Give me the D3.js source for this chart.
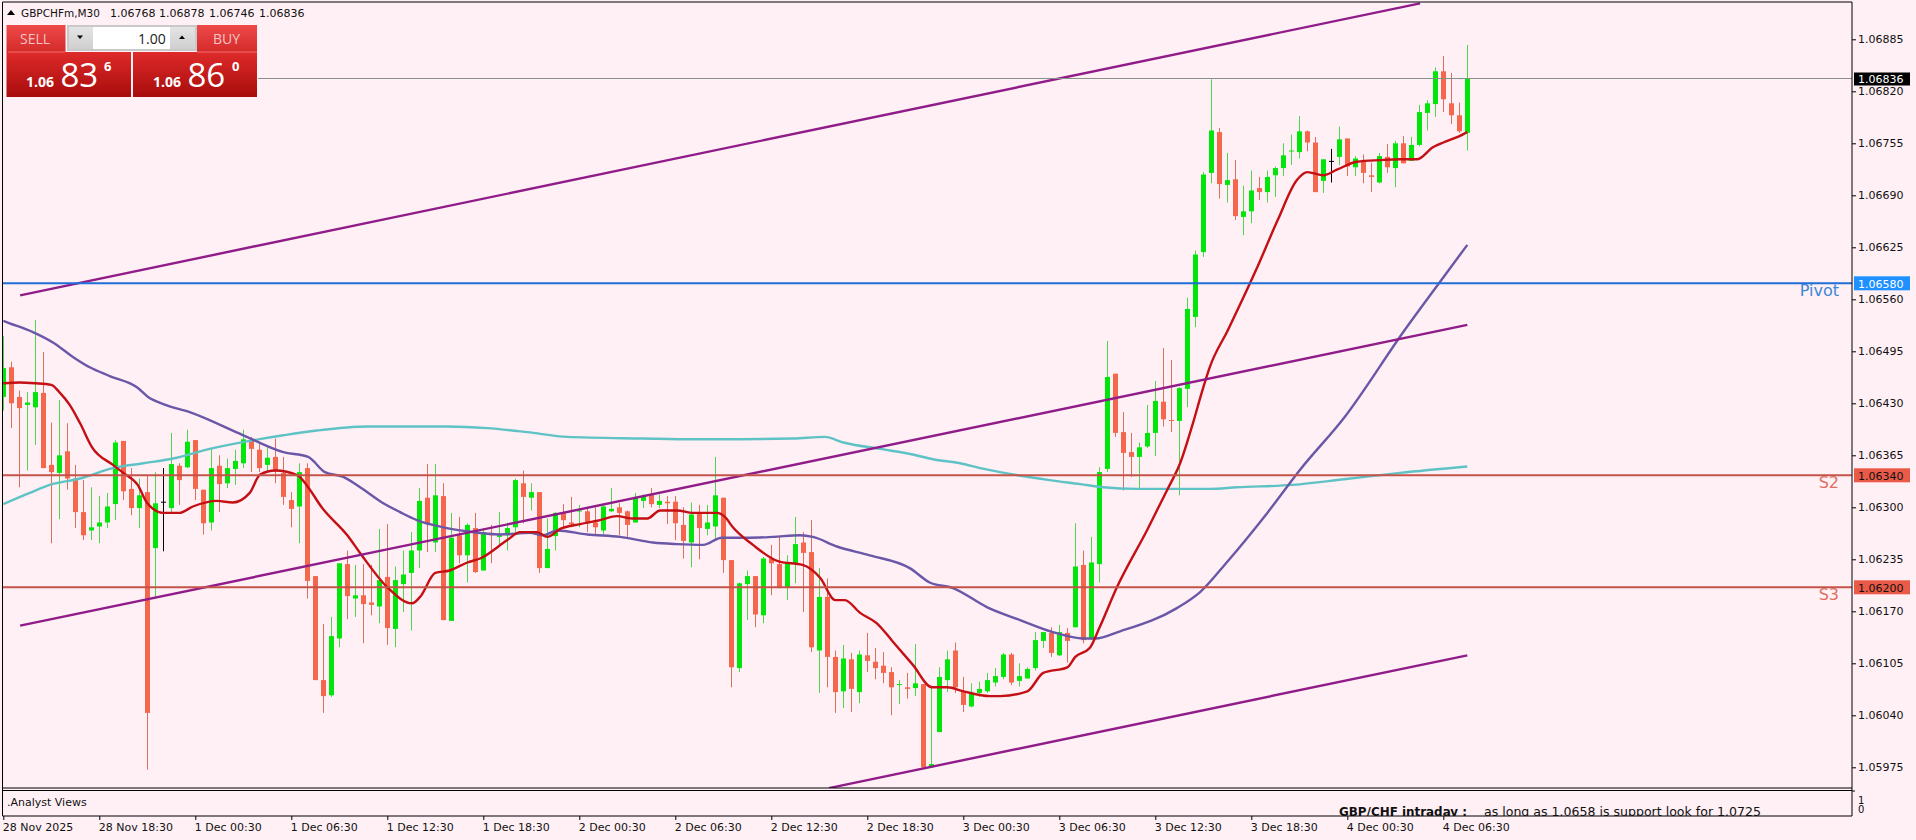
<!DOCTYPE html>
<html><head><meta charset="utf-8"><title>GBPCHFm M30</title>
<script src="https://cdn.jsdelivr.net/npm/d3@7/dist/d3.min.js"></script>
<style>
html,body{margin:0;padding:0;background:#fff0f5;overflow:hidden}
svg{display:block}
text{font-family:"DejaVu Sans",sans-serif;fill:#111}
.axis path{display:none}
.axis line{stroke:#000}
.axis text{font-family:"DejaVu Sans",sans-serif;font-size:11px;fill:#111}
</style></head><body>
<svg id="c" width="1916" height="840"></svg>
<script>
const opens=[1.06438,1.06475,1.06438,1.06428,1.06425,1.06443,1.06353,1.06343,1.06370,1.06336,
1.06294,1.06271,1.06276,1.06281,1.06304,1.06383,1.06323,1.06299,1.06319,1.06249,
1.06307,1.06299,1.06352,1.06350,1.06384,1.06322,1.06281,1.06352,1.06330,1.06348,
1.06355,1.06384,1.06372,1.06353,1.06363,1.06343,1.06309,1.06301,1.06349,1.06214,
1.06084,1.06065,1.06136,1.06229,1.06186,1.06190,1.06181,1.06176,1.06213,1.06148,
1.06204,1.06218,1.06246,1.06312,1.06256,1.06314,1.06158,1.06265,1.06240,1.06274,
1.06221,1.06268,1.06263,1.06265,1.06275,1.06330,1.06312,1.06319,1.06224,1.06264,
1.06293,1.06281,1.06295,1.06295,1.06281,1.06271,1.06295,1.06300,1.06295,1.06281,
1.06308,1.06316,1.06303,1.06307,1.06307,1.06278,1.06256,1.06293,1.06273,1.06276,
1.06312,1.06234,1.06099,1.06204,1.06214,1.06165,1.06236,1.06229,1.06200,1.06230,
1.06256,1.06244,1.06121,1.06188,1.06113,1.06070,1.06110,1.06069,1.06115,1.06107,
1.06102,1.06094,1.06078,1.06075,1.06074,1.06079,1.05975,1.06019,1.06084,1.06121,
1.06069,1.06051,1.06068,1.06070,1.06081,1.06088,1.06116,1.06083,1.06086,1.06099,
1.06133,1.06143,1.06115,1.06143,1.06150,1.06228,1.06136,1.06229,1.06348,1.06467,
1.06394,1.06369,1.06363,1.06376,1.06393,1.06432,1.06409,1.06408,1.06448,1.06538,
1.06619,1.06718,1.06769,1.06703,1.06710,1.06663,1.06670,1.06699,1.06694,1.06715,
1.06724,1.06745,1.06744,1.06770,1.06756,1.06708,1.06733,1.06738,1.06761,1.06725,
1.06733,1.06715,1.06706,1.06738,1.06724,1.06755,1.06733,1.06753,1.06793,1.06804,
1.06845,1.06805,1.06790,1.06768];
const highs=[1.06514,1.06482,1.06446,1.06444,1.06534,1.06494,1.06406,1.06434,1.06405,1.06353,
1.06334,1.06325,1.06314,1.06318,1.06384,1.06383,1.06349,1.06336,1.06340,1.06344,
1.06349,1.06393,1.06355,1.06397,1.06384,1.06322,1.06374,1.06365,1.06361,1.06372,
1.06397,1.06388,1.06381,1.06375,1.06386,1.06363,1.06319,1.06355,1.06355,1.06214,
1.06154,1.06163,1.06230,1.06246,1.06228,1.06229,1.06228,1.06273,1.06279,1.06226,
1.06246,1.06269,1.06324,1.06354,1.06354,1.06330,1.06293,1.06288,1.06280,1.06293,
1.06274,1.06278,1.06294,1.06281,1.06336,1.06346,1.06330,1.06319,1.06286,1.06294,
1.06304,1.06313,1.06303,1.06300,1.06300,1.06303,1.06324,1.06305,1.06296,1.06318,
1.06316,1.06324,1.06316,1.06314,1.06314,1.06300,1.06306,1.06303,1.06303,1.06363,
1.06312,1.06234,1.06206,1.06221,1.06214,1.06238,1.06253,1.06263,1.06240,1.06288,
1.06269,1.06284,1.06224,1.06211,1.06121,1.06128,1.06118,1.06121,1.06143,1.06124,
1.06119,1.06100,1.06084,1.06093,1.06129,1.06079,1.06075,1.06100,1.06121,1.06131,
1.06088,1.06080,1.06082,1.06093,1.06099,1.06118,1.06118,1.06105,1.06100,1.06144,
1.06144,1.06150,1.06153,1.06149,1.06280,1.06246,1.06263,1.06350,1.06508,1.06467,
1.06419,1.06393,1.06381,1.06428,1.06458,1.06499,1.06484,1.06450,1.06562,1.06621,
1.06719,1.06835,1.06774,1.06743,1.06734,1.06702,1.06721,1.06713,1.06721,1.06726,
1.06755,1.06766,1.06789,1.06771,1.06763,1.06735,1.06748,1.06776,1.06761,1.06739,
1.06741,1.06731,1.06743,1.06754,1.06758,1.06764,1.06763,1.06803,1.06809,1.06850,
1.06864,1.06843,1.06806,1.06878];
const lows=[1.06421,1.06399,1.06325,1.06346,1.06378,1.06349,1.06255,1.06285,1.06322,1.06274,
1.06259,1.06259,1.06255,1.06274,1.06284,1.06309,1.06290,1.06274,1.05972,1.06188,
1.06245,1.06294,1.06303,1.06349,1.06309,1.06266,1.06271,1.06294,1.06324,1.06328,
1.06349,1.06344,1.06344,1.06344,1.06330,1.06303,1.06275,1.06255,1.06186,1.06084,
1.06043,1.06063,1.06125,1.06160,1.06163,1.06130,1.06165,1.06155,1.06128,1.06125,
1.06169,1.06146,1.06224,1.06244,1.06244,1.06159,1.06158,1.06230,1.06206,1.06218,
1.06221,1.06230,1.06250,1.06246,1.06268,1.06280,1.06296,1.06218,1.06224,1.06246,
1.06274,1.06275,1.06275,1.06269,1.06265,1.06265,1.06294,1.06265,1.06263,1.06281,
1.06299,1.06300,1.06299,1.06279,1.06259,1.06236,1.06225,1.06235,1.06265,1.06261,
1.06218,1.06075,1.06094,1.06159,1.06150,1.06155,1.06190,1.06199,1.06184,1.06205,
1.06169,1.06119,1.06068,1.06075,1.06043,1.06049,1.06044,1.06055,1.06094,1.06085,
1.06080,1.06040,1.06054,1.06061,1.06064,1.05975,1.05975,1.06019,1.06069,1.06068,
1.06044,1.06050,1.06063,1.06068,1.06076,1.06085,1.06078,1.06076,1.06086,1.06096,
1.06124,1.06113,1.06114,1.06106,1.06150,1.06130,1.06134,1.06206,1.06344,1.06388,
1.06321,1.06338,1.06324,1.06374,1.06364,1.06401,1.06394,1.06315,1.06425,1.06525,
1.06613,1.06705,1.06686,1.06681,1.06659,1.06640,1.06655,1.06684,1.06681,1.06688,
1.06714,1.06728,1.06736,1.06745,1.06694,1.06693,1.06706,1.06728,1.06714,1.06714,
1.06705,1.06694,1.06705,1.06718,1.06700,1.06730,1.06733,1.06751,1.06771,1.06788,
1.06794,1.06779,1.06768,1.06746];
const closes=[1.06474,1.06430,1.06424,1.06431,1.06444,1.06349,1.06344,1.06365,1.06336,1.06294,
1.06265,1.06275,1.06281,1.06301,1.06381,1.06320,1.06299,1.06315,1.06043,1.06305,
1.06307,1.06354,1.06334,1.06382,1.06323,1.06280,1.06349,1.06329,1.06349,1.06358,
1.06385,1.06373,1.06349,1.06362,1.06346,1.06313,1.06298,1.06344,1.06208,1.06084,
1.06064,1.06139,1.06230,1.06189,1.06190,1.06179,1.06178,1.06209,1.06149,1.06209,
1.06216,1.06246,1.06308,1.06280,1.06315,1.06159,1.06262,1.06240,1.06278,1.06219,
1.06269,1.06265,1.06265,1.06274,1.06334,1.06313,1.06319,1.06224,1.06248,1.06293,
1.06284,1.06279,1.06296,1.06280,1.06275,1.06301,1.06298,1.06293,1.06278,1.06313,
1.06314,1.06304,1.06308,1.06305,1.06280,1.06258,1.06291,1.06274,1.06281,1.06315,
1.06234,1.06100,1.06205,1.06214,1.06166,1.06236,1.06230,1.06199,1.06230,1.06254,
1.06243,1.06125,1.06188,1.06113,1.06069,1.06111,1.06073,1.06116,1.06108,1.06099,
1.06093,1.06075,1.06079,1.06073,1.06080,1.05975,1.05979,1.06088,1.06110,1.06075,
1.06053,1.06068,1.06073,1.06084,1.06089,1.06116,1.06081,1.06089,1.06098,1.06134,
1.06144,1.06118,1.06144,1.06133,1.06226,1.06134,1.06231,1.06344,1.06463,1.06393,
1.06368,1.06363,1.06375,1.06393,1.06433,1.06410,1.06408,1.06449,1.06548,1.06616,
1.06716,1.06771,1.06704,1.06709,1.06664,1.06670,1.06696,1.06694,1.06713,1.06724,
1.06740,1.06746,1.06770,1.06756,1.06694,1.06735,1.06733,1.06760,1.06726,1.06736,
1.06718,1.06713,1.06739,1.06725,1.06755,1.06730,1.06753,1.06794,1.06805,1.06845,
1.06810,1.06790,1.06770,1.06836];

const fastBars=[0,2,4,6,7,8.3,9.6,11.1,13.7,15,16.8,18,20,22,23.7,26.7,28.7,30.8,32.1,34,36.8,38.1,39.8,43,44.8,48,51.1,52.1,54,55.8,58,59.6,63,64.6,66.7,68,69.6,72.1,74.6,76.7,78.7,80.5,82.1,84.2,86.2,89.2,90.2,91.2,93.7,97,99.9,102.1,104,105.2,107.1,109.2,111.2,113.7,116.1,118,120,123.3,124.6,128,130,133,134,135.8,137,139.2,143,145.5,147.1,148.7,150,150.8,153.1,156.7,159.3,161.7,163,165,166.7,169.2,172.1,174.6,176.7,178.7,180,181.8,183];
const fastMA=[1.06455,1.06456,1.06455,1.06453,1.06444,1.06428,1.06405,1.06375,1.06353,1.06343,1.06328,1.06305,1.06293,1.06293,1.06301,1.06308,1.06306,1.06318,1.06341,1.06346,1.06340,1.06325,1.06300,1.06265,1.06240,1.06200,1.06180,1.06188,1.06218,1.06221,1.06231,1.06236,1.06259,1.06269,1.06269,1.06263,1.06273,1.06279,1.06284,1.06289,1.06286,1.06286,1.06296,1.06296,1.06293,1.06293,1.06288,1.06275,1.06253,1.06232,1.06228,1.06212,1.06184,1.06184,1.06168,1.06155,1.06132,1.06103,1.06075,1.06075,1.06070,1.06064,1.06064,1.06070,1.06093,1.06100,1.06113,1.06124,1.06149,1.06200,1.06272,1.06322,1.06355,1.06405,1.06450,1.06475,1.06522,1.06599,1.06659,1.06709,1.06719,1.06715,1.06722,1.06732,1.06734,1.06735,1.06735,1.06750,1.06756,1.06763,1.06769];
const slowBars=[0,0.8,3.7,6.2,8.7,10.8,13.3,16.7,18.1,20,23.3,30,35,38.1,40.2,42.5,44.6,47.5,49.6,51.7,55,58,62.1,65.8,67.5,69.2,73,77.1,81.2,84.2,87.5,89.8,93.3,96.2,99.6,101.2,104.2,108.3,113.3,115.8,118.7,123,127.1,131.2,135,136.5,139.6,146.7,149.6,153,158,162.1,167.6,175.2,179.6,183];
const slowMA=[1.06533,1.06530,1.06519,1.06506,1.06488,1.06475,1.06464,1.06450,1.06438,1.06429,1.06419,1.06390,1.06369,1.06363,1.06344,1.06338,1.06325,1.06305,1.06294,1.06284,1.06275,1.06270,1.06266,1.06268,1.06265,1.06271,1.06266,1.06263,1.06256,1.06254,1.06253,1.06262,1.06262,1.06263,1.06265,1.06263,1.06251,1.06240,1.06224,1.06206,1.06199,1.06175,1.06159,1.06144,1.06136,1.06136,1.06145,1.06174,1.06194,1.06232,1.06293,1.06347,1.06412,1.06522,1.06582,1.06628];
const longBars=[0,3.3,5.8,9.6,13.7,17.5,21.2,25.8,30.8,35,39.2,45.5,55.5,60.5,65.5,70.5,80,86.2,88.7,98.7,102.7,105,109.6,113.7,116.2,119.6,122.1,124.6,130.8,134.6,137.5,141.7,150.8,154.2,161.2,167.6,174.6,183];
const longMA=[1.06304,1.06318,1.06328,1.06336,1.06349,1.06355,1.06361,1.06373,1.06383,1.06390,1.06396,1.06401,1.06401,1.06399,1.06394,1.06388,1.06386,1.06385,1.06385,1.06386,1.06388,1.06381,1.06373,1.06366,1.06360,1.06355,1.06349,1.06344,1.06334,1.06329,1.06325,1.06323,1.06323,1.06325,1.06328,1.06335,1.06343,1.06351];

const channelTopBars=[2.1,177.1],   channelTopPrices=[1.06565,1.06930];
const channelMidBars=[2.1,183],     channelMidPrices=[1.06152,1.06528];
const channelLowBars=[103.2,183],   channelLowPrices=[1.05949,1.06115];

const priceTicks=[1.06885,1.06820,1.06755,1.06690,1.06625,1.06560,1.06495,1.06430,1.06365,1.06300,1.06235,1.06170,1.06105,1.06040,1.05975];
const timeTickBars=[0,12,24,36,48,60,72,84,96,108,120,132,144,156,168,180];
const timeTickLabels=["28 Nov 2025","28 Nov 18:30","1 Dec 00:30","1 Dec 06:30","1 Dec 12:30","1 Dec 18:30","2 Dec 00:30","2 Dec 06:30","2 Dec 12:30","2 Dec 18:30","3 Dec 00:30","3 Dec 06:30","3 Dec 12:30","3 Dec 18:30","4 Dec 00:30","4 Dec 06:30"];
const levelNames=["Pivot","S2","S3"];
const levelPrices=[1.0658,1.0634,1.0620];
const currentPrice=1.06836;

const svg=d3.select("#c");
const x=d3.scaleLinear().domain([0,183]).range([3.3,1467.3]);
const y=d3.scaleLinear().domain([1.06885,1.05975]).range([39.3,767.3]);
const RIGHT=1852,TOP=2,MAINB=788,SUBT=790.5,BOT=816,LEFT=2.5;

const defs=svg.append("defs");
defs.append("clipPath").attr("id","main").append("rect").attr("x",LEFT+0.5).attr("y",TOP).attr("width",RIGHT-LEFT-0.5).attr("height",MAINB-TOP);
defs.append("clipPath").attr("id","sub").append("rect").attr("x",LEFT).attr("y",SUBT).attr("width",RIGHT-LEFT).attr("height",BOT-SUBT);
function grad(id,a,b){const g=defs.append("linearGradient").attr("id",id).attr("x1",0).attr("x2",0).attr("y1",0).attr("y2",1);
 g.append("stop").attr("offset",0).attr("stop-color",a);g.append("stop").attr("offset",1).attr("stop-color",b);}
grad("btn","#ee4a4a","#d42a2a");grad("px","#de2a2a","#a80c0c");grad("lot","#e4e4e4","#cfcfcf");

const chart=svg.append("g").attr("clip-path","url(#main)");
const bars=d3.range(opens.length);
const UP="#00e60a",DOWN="#f4674c",UPW="#4fd44f",DOWNW="#d9705c";
const dir=i=>closes[i]>opens[i]?1:closes[i]<opens[i]?-1:0;

chart.append("g").selectAll("line").data(bars).join("line")
 .attr("x1",i=>Math.round(x(i))+0.5).attr("x2",i=>Math.round(x(i))+0.5)
 .attr("y1",i=>y(highs[i])).attr("y2",i=>y(lows[i]))
 .attr("stroke",i=>dir(i)>0?UPW:dir(i)<0?DOWNW:"#000").attr("stroke-width",1);
chart.append("g").selectAll("rect").data(bars).join("rect")
 .attr("x",i=>Math.round(x(i))+0.5-2.5).attr("width",5)
 .attr("y",i=>y(Math.max(opens[i],closes[i])))
 .attr("height",i=>Math.max(1,Math.abs(y(opens[i])-y(closes[i]))))
 .attr("fill",i=>dir(i)>0?UP:dir(i)<0?DOWN:"#000");

const path=(b,v)=>d3.line().x((d,i)=>x(b[i])).y(d=>y(d)).curve(d3.curveMonotoneX)(v);
function ln(b,v,c,w){chart.append("path").attr("d",path(b,v)).attr("fill","none").attr("stroke",c).attr("stroke-width",w).attr("stroke-linejoin","round");}
ln(longBars,longMA,"#5fc3c6",2.4);
ln(slowBars,slowMA,"#6a57a8",2.4);
ln(fastBars,fastMA,"#c40f14",2.4);
ln(channelTopBars,channelTopPrices,"#8f1c88",2.4);
ln(channelMidBars,channelMidPrices,"#8f1c88",2.4);
ln(channelLowBars,channelLowPrices,"#8f1c88",2.4);

const levelColor=["#1f6fd6","#c4534a","#c4534a"];
const levelText=["#3b87d4","#de6f5e","#de6f5e"];
chart.append("g").selectAll("line").data(levelPrices).join("line")
 .attr("x1",LEFT).attr("x2",RIGHT).attr("y1",d=>y(d)).attr("y2",d=>y(d))
 .attr("stroke",(d,i)=>levelColor[i]).attr("stroke-width",2);
chart.append("line").attr("x1",258).attr("x2",RIGHT).attr("y1",y(currentPrice)).attr("y2",y(currentPrice)).attr("stroke","#87908a").attr("stroke-width",1);
chart.append("g").selectAll("text").data(levelNames).join("text")
 .attr("x",1839).attr("y",(d,i)=>y(levelPrices[i])+13).attr("text-anchor","end")
 .style("font-size","16px").style("fill",(d,i)=>levelText[i]).text(d=>d);

// frames
const fr=svg.append("g").attr("fill","none").attr("stroke","#000").attr("stroke-width",1);
fr.append("path").attr("d",`M${LEFT},${TOP}H${RIGHT}V${BOT}H${LEFT}Z M${LEFT},${MAINB}H${RIGHT} M${LEFT},${SUBT}H${RIGHT}`);

// axes
const yAxis=d3.axisRight(y).tickValues(priceTicks).tickFormat(d3.format(".5f")).tickSize(4).tickPadding(2);
svg.append("g").attr("class","axis").attr("transform",`translate(${RIGHT},0)`).call(yAxis);
const xAxis=d3.axisBottom(x).tickValues(timeTickBars).tickFormat((d,i)=>timeTickLabels[i]).tickSize(4).tickPadding(2);
const xg=svg.append("g").attr("class","axis").attr("transform",`translate(0,${BOT})`).call(xAxis);
xg.selectAll("text").attr("text-anchor","start").attr("dx",-1).attr("dy","0.85em");

// price labels
const labelBg=["#1e90ff","#ea5a48","#ea5a48"],labelFg=["#fff","#111","#111"];
levelPrices.forEach((p,i)=>{
 svg.append("rect").attr("x",1854).attr("y",y(p)-7).attr("width",56).attr("height",14).attr("fill",labelBg[i]);
 svg.append("text").attr("x",1858).attr("y",y(p)+4.5).style("font-size","11px").style("fill",labelFg[i]).text(d3.format(".5f")(p));
});
svg.append("rect").attr("x",1854).attr("y",y(currentPrice)-6).attr("width",56).attr("height",13).attr("fill","#000");
svg.append("text").attr("x",1858).attr("y",y(currentPrice)+4.5).style("font-size","11px").style("fill","#fff").text(d3.format(".5f")(currentPrice));

// sub-window
svg.append("text").attr("x",7).attr("y",806).style("font-size","11px").text(".Analyst Views");
svg.append("text").attr("x",1858).attr("y",804).style("font-size","10px").text("1");
svg.append("text").attr("x",1858).attr("y",813).style("font-size","10px").text("0");
svg.append("line").attr("x1",RIGHT).attr("x2",RIGHT+3).attr("y1",791).attr("y2",791).attr("stroke","#000");
const sub=svg.append("g").attr("clip-path","url(#sub)");
sub.append("text").attr("x",1339).attr("y",816).attr("textLength",128).attr("lengthAdjust","spacingAndGlyphs").style("font-size","12px").style("font-weight","bold").text("GBP/CHF intraday :");
sub.append("text").attr("x",1484).attr("y",816).attr("textLength",277).attr("lengthAdjust","spacingAndGlyphs").style("font-size","12px").text("as long as 1.0658 is support look for 1.0725");

// header
svg.append("path").attr("d","M7,15L11,10L15,15Z").attr("fill","#000");
const hdr=["GBPCHFm,M30","1.06768","1.06878","1.06746","1.06836"],hdrX=[21,110,159,209,259];
hdr.forEach((t,i)=>{const e=svg.append("text").attr("x",hdrX[i]).attr("y",17).style("font-size","11px").text(t);
 if(i==0)e.attr("textLength",79).attr("lengthAdjust","spacingAndGlyphs");});

// trade panel
const tp=svg.append("g");
const F='"Open Sans",sans-serif';
function r(x0,y0,w,h,f){tp.append("rect").attr("x",x0).attr("y",y0).attr("width",w).attr("height",h).attr("fill",f);}
function t(x0,y0,s,fs,c,fw){tp.append("text").attr("x",x0).attr("y",y0).style("font-family",F).style("font-size",fs+"px").style("fill",c).style("font-weight",fw||"normal").text(s);}
r(67,25,130,26,"#c9c9c9");r(69,27,24,22,"url(#lot)");r(93,27,77,22,"#fff");r(170,27,25,22,"url(#lot)");
r(6.5,25,59,27,"url(#btn)");r(197,25,60,27,"url(#btn)");
r(6.5,52,124.5,45,"url(#px)");r(133,52,124,45,"url(#px)");
tp.append("line").attr("x1",8).attr("x2",65).attr("y1",52).attr("y2",52).attr("stroke","#f07070");
tp.append("line").attr("x1",197).attr("x2",257).attr("y1",52).attr("y2",52).attr("stroke","#f07070");
tp.append("path").attr("d","M77,35.5H83L80,39Z M179,39H185L182,35.5Z").attr("fill","#000");
t(20,44,"SELL",14,"#f6c4c4");t(213,44,"BUY",14,"#f6c4c4");t(138,44,"1.00",14,"#222");
t(26,87,"1.06",14,"#fff","bold");t(60.5,87,"83",33,"#fff");t(104,71,"6",13,"#fff","bold");
t(153,87,"1.06",14,"#fff","bold");t(187.5,87,"86",33,"#fff");t(232,71,"0",13,"#fff","bold");
</script></body></html>
